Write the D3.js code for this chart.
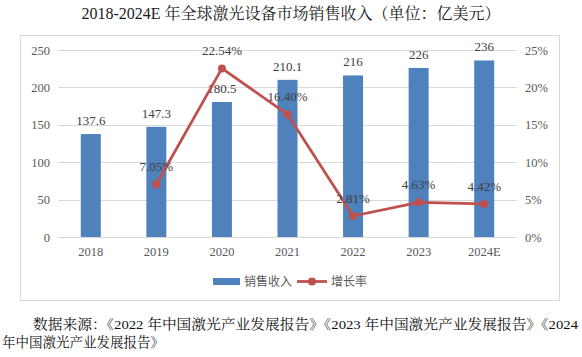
<!DOCTYPE html>
<html><head><meta charset="utf-8">
<script src="https://cdn.jsdelivr.net/npm/d3@7"></script>
<style>body{margin:0;background:#fff}svg{display:block}</style>
</head><body>
<script>
const categories = ["2018","2019","2020","2021","2022","2023","2024E"];
const revenue = [137.6,147.3,180.5,210.1,216,226,236];
const revenueLabels = ["137.6","147.3","180.5","210.1","216","226","236"];
const growth = [null,7.05,22.54,16.40,2.81,4.63,4.42];
const growthLabels = [null,"7.05%","22.54%","16.40%","2.81%","4.63%","4.42%"];
const leftTicks = [0,50,100,150,200,250];
const rightTicks = [0,5,10,15,20,25];

const W=582,H=357;
const serif = '"Liberation Serif","Times New Roman","Noto Serif CJK SC","Noto Sans CJK SC",serif';
const svg=d3.select("body").append("svg").attr("width",W).attr("height",H);

svg.append("text").attr("x",291).attr("y",19).attr("text-anchor","middle")
  .attr("font-family",serif).attr("font-size",16).attr("fill","#1a1a1a")
  .text("2018-2024E 年全球激光设备市场销售收入（单位：亿美元）");

svg.append("rect").attr("x",20.5).attr("y",35.5).attr("width",539).attr("height",265)
  .attr("fill","none").attr("stroke","#d9d9d9");

const x=d3.scaleBand().domain(categories).range([58,517]);
const yL=d3.scaleLinear().domain([0,250]).range([237,50]);
const yR=d3.scaleLinear().domain([0,25]).range([237,50]);

svg.append("g").selectAll("line").data(leftTicks).join("line")
  .attr("x1",58).attr("x2",517).attr("y1",d=>Math.round(yL(d))+0.5).attr("y2",d=>Math.round(yL(d))+0.5)
  .attr("stroke","#d9d9d9").attr("stroke-width",1);

const axL=svg.append("g").attr("transform","translate(58,0)")
  .call(d3.axisLeft(yL).tickValues(leftTicks).tickSize(0).tickPadding(8));
axL.select(".domain").remove();
axL.selectAll("text").attr("font-family",serif).attr("font-size",12.5).attr("fill","#595959");

const axR=svg.append("g").attr("transform","translate(517,0)")
  .call(d3.axisRight(yR).tickValues(rightTicks).tickSize(0).tickPadding(8).tickFormat(d=>d+"%"));
axR.select(".domain").remove();
axR.selectAll("text").attr("font-family",serif).attr("font-size",12.5).attr("fill","#595959");

const axB=svg.append("g").attr("transform","translate(0,237)")
  .call(d3.axisBottom(x).tickSize(0).tickPadding(10));
axB.select(".domain").remove();
axB.selectAll("text").attr("font-family",serif).attr("font-size",12.5).attr("fill","#595959");

const bw=20;
svg.append("g").selectAll("rect").data(revenue).join("rect")
  .attr("x",(d,i)=>x(categories[i])+x.bandwidth()/2-bw/2)
  .attr("y",d=>yL(d)).attr("width",bw).attr("height",d=>yL(0)-yL(d))
  .attr("fill","#4F81BD");

svg.append("g").selectAll("text").data(revenue).join("text")
  .attr("x",(d,i)=>x(categories[i])+x.bandwidth()/2)
  .attr("y",d=>yL(d)-9).attr("text-anchor","middle")
  .attr("font-family",serif).attr("font-size",13).attr("fill","#404040")
  .text((d,i)=>revenueLabels[i]);

const pts=growth.map((g,i)=>({g,i})).filter(p=>p.g!==null);
const line=d3.line().x(p=>x(categories[p.i])+x.bandwidth()/2).y(p=>yR(p.g));
svg.append("path").datum(pts).attr("d",line).attr("fill","none")
  .attr("stroke","#C0504D").attr("stroke-width",2.75).attr("stroke-linejoin","round");
svg.append("g").selectAll("circle").data(pts).join("circle")
  .attr("cx",p=>x(categories[p.i])+x.bandwidth()/2).attr("cy",p=>yR(p.g)).attr("r",4)
  .attr("fill","#C0504D");
svg.append("g").selectAll("text").data(pts).join("text")
  .attr("x",p=>x(categories[p.i])+x.bandwidth()/2).attr("y",p=>yR(p.g)-13)
  .attr("text-anchor","middle").attr("font-family",serif).attr("font-size",13).attr("fill","#404040")
  .text(p=>growthLabels[p.i]);

const lg=svg.append("g").attr("font-family",'"Noto Sans CJK SC",sans-serif').attr("font-size",12).attr("fill","#595959");
lg.append("rect").attr("x",213).attr("y",278).attr("width",27).attr("height",7).attr("fill","#4F81BD");
lg.append("text").attr("x",244).attr("y",286).text("销售收入");
lg.append("line").attr("x1",297).attr("x2",327).attr("y1",281.5).attr("y2",281.5).attr("stroke","#C0504D").attr("stroke-width",2.75);
lg.append("circle").attr("cx",312).attr("cy",281.5).attr("r",4).attr("fill","#C0504D");
lg.append("text").attr("x",331).attr("y",286).text("增长率");

const src=svg.append("g").attr("font-family",serif).attr("font-size",13.5).attr("fill","#111");
src.append("text").attr("x",33).attr("y",329).attr("textLength",545).attr("lengthAdjust","spacingAndGlyphs")
  .text("数据来源：《2022 年中国激光产业发展报告》《2023 年中国激光产业发展报告》《2024");
src.append("text").attr("x",2).attr("y",347).text("年中国激光产业发展报告》");
</script>
</body></html>
